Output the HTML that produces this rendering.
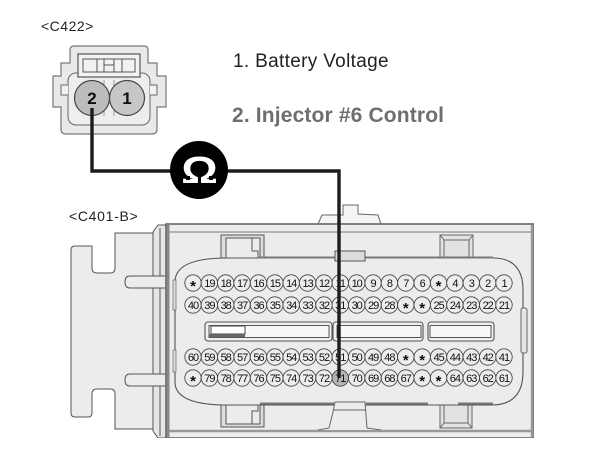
<!DOCTYPE html>
<html><head><meta charset="utf-8"><style>
html,body{margin:0;padding:0;background:#fff}
svg{display:block}
text{font-family:"Liberation Sans",sans-serif}
.p circle{fill:#ededed;stroke:#444;stroke-width:.85}
.p text{font-size:11px;letter-spacing:-1px;text-anchor:middle;fill:#111}
.p text.s{font-size:15px;font-weight:bold;letter-spacing:0;fill:#111}
.l{fill:none;stroke:#555;stroke-width:1}
</style></head><body>
<svg width="601" height="451" viewBox="0 0 601 451" xmlns="http://www.w3.org/2000/svg">
<defs>
<filter id="b" x="0" y="0" width="100%" height="100%"><feGaussianBlur stdDeviation="0.38"/></filter>
</defs>
<rect width="601" height="451" fill="#fff"/>
<g filter="url(#b)">
<text x="41" y="31" font-size="14" fill="#222" letter-spacing=".5">&lt;C422&gt;</text>
<text x="69" y="221" font-size="14" fill="#222" letter-spacing=".7">&lt;C401-B&gt;</text>
<text x="233" y="67" font-size="19" fill="#222" letter-spacing=".33">1. Battery Voltage</text>
<text x="232" y="122" font-size="21" font-weight="bold" fill="#6e6e6e" letter-spacing=".15">2. Injector #6 Control</text>

<!-- C422 -->
<path d="M74 46H144Q148 46 148 50V63H157V76H166V107H157V129Q157 134 152 134H66Q61 134 61 129V107H53V76H61V63H70V50Q70 46 74 46Z" fill="#e9e9e9" stroke="#777" stroke-width="1.2"/>
<rect x="68" y="73" width="82" height="52" rx="8" fill="#eeeeee" stroke="#666"/>
<path d="M68 85H61V95H68M150 85H157V95H150" fill="#f2f2f2" stroke="#666"/>
<rect x="78" y="54" width="62" height="23" fill="#f2f2f2" stroke="#555" stroke-width="1.2"/>
<rect x="83" y="59" width="52" height="13" fill="none" stroke="#555"/>
<path d="M97 59V72M104 59V72M114 59V72M122 59V72M104 65H114" fill="none" stroke="#555"/>
<path d="M104 80V116M114 80V116" stroke="#999" fill="none"/>
<circle cx="127" cy="98" r="17.5" fill="#c6c6c6" stroke="#444" stroke-width="1.2"/>
<circle cx="92" cy="98" r="17.5" fill="#bcbcbc" stroke="#444" stroke-width="1.2"/>
<text x="92" y="104" font-size="17" font-weight="bold" text-anchor="middle" fill="#111">2</text>
<text x="127" y="104" font-size="17" font-weight="bold" text-anchor="middle" fill="#111">1</text>

<!-- top bump -->
<path d="M318 224L322 215H343V205H358V214L378 215L381 224Z" fill="#f4f4f4" stroke="#666"/>
<!-- left plate -->
<path d="M71 250Q71 246 75 246H92V268Q92 273 97 273H110Q115 273 115 268V233H153V429H115V394Q115 389 110 389H97Q92 389 92 394V413Q92 417 88 417H75Q71 417 71 413Z" fill="#ececec" stroke="#555"/>
<path d="M153 232L158 225H166V438H158L153 431Z" fill="#e6e6e6" stroke="#555"/>
<path class="l" d="M153 232V431M160 228V436"/>
<path d="M165 276H130Q125 276 125 282Q125 288 130 288H165M165 374H130Q125 374 125 380Q125 386 130 386H165" fill="#ececec" stroke="#555"/>
<!-- housing -->
<rect x="166" y="224" width="368" height="214" fill="#ececec" stroke="#666" stroke-width="1.6"/>
<path d="M167 232H532" fill="none" stroke="#777" stroke-width="1"/>
<path d="M167 431H532" fill="none" stroke="#999" stroke-width="2.4"/>
<path d="M168 225V437" stroke="#888" stroke-width="3" fill="none"/>
<path d="M532 225V437" stroke="#999" stroke-width="2.4" fill="none"/>
<!-- tabs -->
<path d="M221 258V235H264V258H260V238H226V258Z" fill="#ddd" stroke="#555"/>
<path d="M252 238V251H258V258" fill="none" stroke="#555"/>
<path d="M221 404V427H264V404H260V424H226V404Z" fill="#ddd" stroke="#555"/>
<path d="M252 424V411H258V404" fill="none" stroke="#555"/>
<path d="M440 258V235H473V258M444 258V240H469V258M440 235L444 240M473 235L469 240" fill="#e2e2e2" stroke="#666"/>
<path d="M440 404V428H472V404M444 404V423H468V404M440 428L444 423M472 428L468 423" fill="#e2e2e2" stroke="#666"/>
<!-- shroud -->
<path d="M227 258H493Q523 258 523 290V372Q523 404 493 405H223Q175 404 175 382V282Q175 258 227 258Z" fill="#ececec" stroke="#555" stroke-width="1.1"/>
<path d="M259 257.500H493M458 403.500H493M260 403.500H334M366 403.500H428" stroke="#777" fill="none" stroke-width="2"/>
<!-- bottom bump -->
<path d="M318 430L329 428L333 412L335 402H365L367 428L381 430" fill="#ececec" stroke="#666"/>
<path d="M334 410H366" stroke="#666" fill="none"/>
<rect x="173" y="280" width="3" height="30" fill="#ddd" stroke="#666" stroke-width=".7"/>
<rect x="173" y="350" width="3" height="22" fill="#ddd" stroke="#666" stroke-width=".7"/>
<rect x="521" y="308" width="6" height="45" rx="2" fill="#e4e4e4" stroke="#666"/>
<rect x="335" y="251" width="30" height="10" fill="#dcdcdc" stroke="#555"/>
<!-- slots -->
<rect x="205" y="322" width="127" height="19" rx="3" fill="#f0f0f0" stroke="#555" stroke-width="1.1"/>
<rect x="209" y="325.500" width="120" height="12" fill="#f8f8f8" stroke="#555"/>
<rect x="211" y="326" width="34" height="8" fill="#fff" stroke="#444"/>
<path d="M209 335.500H245" stroke="#666" stroke-width="3"/>
<rect x="333" y="322" width="90" height="19" rx="3" fill="#f0f0f0" stroke="#555" stroke-width="1.1"/>
<rect x="337" y="325.500" width="84" height="12" fill="#f8f8f8" stroke="#555"/>
<rect x="428" y="322" width="66" height="19" rx="3" fill="#f0f0f0" stroke="#555" stroke-width="1.1"/>
<rect x="430" y="325.500" width="61" height="12" fill="#f8f8f8" stroke="#555"/>

<!-- row 1 -->
<g class="p">
<circle cx="193" cy="283" r="8.2"/><circle cx="209.4" cy="283" r="8.2"/><circle cx="225.7" cy="283" r="8.2"/><circle cx="242.1" cy="283" r="8.2"/><circle cx="258.5" cy="283" r="8.2"/><circle cx="274.9" cy="283" r="8.2"/><circle cx="291.2" cy="283" r="8.2"/><circle cx="307.6" cy="283" r="8.2"/><circle cx="324" cy="283" r="8.2"/><circle cx="340.3" cy="283" r="8.2"/><circle cx="356.7" cy="283" r="8.2"/><circle cx="373.1" cy="283" r="8.2"/><circle cx="389.4" cy="283" r="8.2"/><circle cx="405.8" cy="283" r="8.2"/><circle cx="422.2" cy="283" r="8.2"/><circle cx="438.6" cy="283" r="8.2"/><circle cx="454.9" cy="283" r="8.2"/><circle cx="471.3" cy="283" r="8.2"/><circle cx="487.7" cy="283" r="8.2"/><circle cx="504" cy="283" r="8.2"/>
<text class="s" x="193" y="291">*</text><text x="209.4" y="287">19</text><text x="225.7" y="287">18</text><text x="242.1" y="287">17</text><text x="258.5" y="287">16</text><text x="274.9" y="287">15</text><text x="291.2" y="287">14</text><text x="307.6" y="287">13</text><text x="324" y="287">12</text><text x="340.3" y="287">11</text><text x="356.7" y="287">10</text><text x="373.1" y="287">9</text><text x="389.4" y="287">8</text><text x="405.8" y="287">7</text><text x="422.2" y="287">6</text><text class="s" x="438.6" y="291">*</text><text x="454.9" y="287">4</text><text x="471.3" y="287">3</text><text x="487.7" y="287">2</text><text x="504" y="287">1</text>
</g>
<!-- row 2 -->
<g class="p">
<circle cx="193" cy="305" r="8.2"/><circle cx="209.4" cy="305" r="8.2"/><circle cx="225.7" cy="305" r="8.2"/><circle cx="242.1" cy="305" r="8.2"/><circle cx="258.5" cy="305" r="8.2"/><circle cx="274.9" cy="305" r="8.2"/><circle cx="291.2" cy="305" r="8.2"/><circle cx="307.6" cy="305" r="8.2"/><circle cx="324" cy="305" r="8.2"/><circle cx="340.3" cy="305" r="8.2"/><circle cx="356.7" cy="305" r="8.2"/><circle cx="373.1" cy="305" r="8.2"/><circle cx="389.4" cy="305" r="8.2"/><circle cx="405.8" cy="305" r="8.2"/><circle cx="422.2" cy="305" r="8.2"/><circle cx="438.6" cy="305" r="8.2"/><circle cx="454.9" cy="305" r="8.2"/><circle cx="471.3" cy="305" r="8.2"/><circle cx="487.7" cy="305" r="8.2"/><circle cx="504" cy="305" r="8.2"/>
<text x="193" y="309">40</text><text x="209.4" y="309">39</text><text x="225.7" y="309">38</text><text x="242.1" y="309">37</text><text x="258.5" y="309">36</text><text x="274.9" y="309">35</text><text x="291.2" y="309">34</text><text x="307.6" y="309">33</text><text x="324" y="309">32</text><text x="340.3" y="309">31</text><text x="356.7" y="309">30</text><text x="373.1" y="309">29</text><text x="389.4" y="309">28</text><text class="s" x="405.8" y="313">*</text><text class="s" x="422.2" y="313">*</text><text x="438.6" y="309">25</text><text x="454.9" y="309">24</text><text x="471.3" y="309">23</text><text x="487.7" y="309">22</text><text x="504" y="309">21</text>
</g>
<!-- row 3 -->
<g class="p">
<circle cx="193" cy="357" r="8.2"/><circle cx="209.4" cy="357" r="8.2"/><circle cx="225.7" cy="357" r="8.2"/><circle cx="242.1" cy="357" r="8.2"/><circle cx="258.5" cy="357" r="8.2"/><circle cx="274.9" cy="357" r="8.2"/><circle cx="291.2" cy="357" r="8.2"/><circle cx="307.6" cy="357" r="8.2"/><circle cx="324" cy="357" r="8.2"/><circle cx="340.3" cy="357" r="8.2"/><circle cx="356.7" cy="357" r="8.2"/><circle cx="373.1" cy="357" r="8.2"/><circle cx="389.4" cy="357" r="8.2"/><circle cx="405.8" cy="357" r="8.2"/><circle cx="422.2" cy="357" r="8.2"/><circle cx="438.6" cy="357" r="8.2"/><circle cx="454.9" cy="357" r="8.2"/><circle cx="471.3" cy="357" r="8.2"/><circle cx="487.7" cy="357" r="8.2"/><circle cx="504" cy="357" r="8.2"/>
<text x="193" y="361">60</text><text x="209.4" y="361">59</text><text x="225.7" y="361">58</text><text x="242.1" y="361">57</text><text x="258.5" y="361">56</text><text x="274.9" y="361">55</text><text x="291.2" y="361">54</text><text x="307.6" y="361">53</text><text x="324" y="361">52</text><text x="340.3" y="361">51</text><text x="356.7" y="361">50</text><text x="373.1" y="361">49</text><text x="389.4" y="361">48</text><text class="s" x="405.8" y="365">*</text><text class="s" x="422.2" y="365">*</text><text x="438.6" y="361">45</text><text x="454.9" y="361">44</text><text x="471.3" y="361">43</text><text x="487.7" y="361">42</text><text x="504" y="361">41</text>
</g>
<!-- row 4 -->
<g class="p">
<circle cx="193" cy="378" r="8.2"/><circle cx="209.4" cy="378" r="8.2"/><circle cx="225.7" cy="378" r="8.2"/><circle cx="242.1" cy="378" r="8.2"/><circle cx="258.5" cy="378" r="8.2"/><circle cx="274.9" cy="378" r="8.2"/><circle cx="291.2" cy="378" r="8.2"/><circle cx="307.6" cy="378" r="8.2"/><circle cx="324" cy="378" r="8.2"/><circle cx="340.3" cy="378" r="8.2" style="fill:#b5b5b5"/><circle cx="356.7" cy="378" r="8.2"/><circle cx="373.1" cy="378" r="8.2"/><circle cx="389.4" cy="378" r="8.2"/><circle cx="405.8" cy="378" r="8.2"/><circle cx="422.2" cy="378" r="8.2"/><circle cx="438.6" cy="378" r="8.2"/><circle cx="454.9" cy="378" r="8.2"/><circle cx="471.3" cy="378" r="8.2"/><circle cx="487.7" cy="378" r="8.2"/><circle cx="504" cy="378" r="8.2"/>
<text class="s" x="193" y="386">*</text><text x="209.4" y="382">79</text><text x="225.7" y="382">78</text><text x="242.1" y="382">77</text><text x="258.5" y="382">76</text><text x="274.9" y="382">75</text><text x="291.2" y="382">74</text><text x="307.6" y="382">73</text><text x="324" y="382">72</text><text x="340.3" y="382">71</text><text x="356.7" y="382">70</text><text x="373.1" y="382">69</text><text x="389.4" y="382">68</text><text x="405.8" y="382">67</text><text class="s" x="422.2" y="386">*</text><text class="s" x="438.6" y="386">*</text><text x="454.9" y="382">64</text><text x="471.3" y="382">63</text><text x="487.7" y="382">62</text><text x="504" y="382">61</text>
</g>

<!-- wire -->
<path d="M92 108V171H339V378" fill="none" stroke="#1c1c1c" stroke-width="3.4"/>
<circle cx="199" cy="170" r="29" fill="#050505"/>
<text transform="translate(199.500 183) scale(1.2 1)" font-size="38" font-weight="bold" text-anchor="middle" fill="#fff">Ω</text>
<rect x="186" y="176" width="4" height="4" fill="#050505"/>
<rect x="209" y="176" width="4" height="4" fill="#050505"/>
</g>
</svg>
</body></html>
